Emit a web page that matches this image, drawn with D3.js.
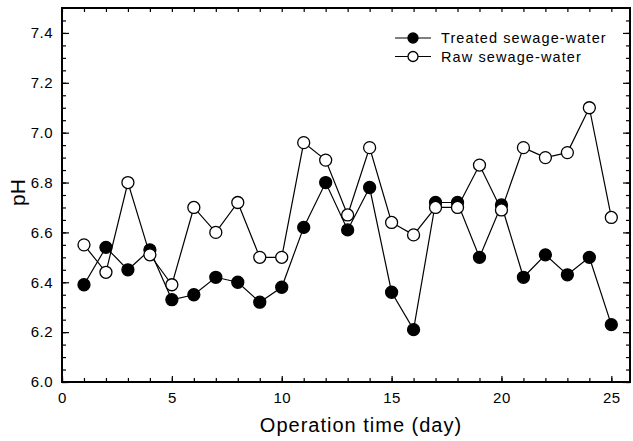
<!DOCTYPE html>
<html>
<head>
<meta charset="utf-8">
<script src="https://cdn.jsdelivr.net/npm/d3@7"></script>
<style>
  body { margin: 0; background: #fff; }
  text { font-family: "Liberation Sans", Arial, Helvetica, sans-serif; fill: #000; }
</style>
</head>
<body>
<div id="chart"></div>
<script>
// operation days
let days = [1, 2, 3, 4, 5, 6, 7, 8, 9, 10, 11, 12, 13, 14, 15, 16, 17, 18, 19, 20, 21, 22, 23, 24, 25];

// pH values
let treated = [6.39, 6.54, 6.45, 6.53, 6.33, 6.35, 6.42, 6.40, 6.32, 6.38, 6.62, 6.80, 6.61,
  6.78, 6.36, 6.21, 6.72, 6.72, 6.50, 6.71, 6.42, 6.51, 6.43, 6.50, 6.23];
let raw = [6.55, 6.44, 6.80, 6.51, 6.39, 6.70, 6.60, 6.72, 6.50, 6.50, 6.96, 6.89, 6.67,
  6.94, 6.64, 6.59, 6.70, 6.70, 6.87, 6.69, 6.94, 6.90, 6.92, 7.10, 6.66];

let yTicks = [6.0, 6.2, 6.4, 6.6, 6.8, 7.0, 7.2, 7.4];
let xTicks = [0, 5, 10, 15, 20, 25];

let seriesNames = ["Treated sewage-water", "Raw sewage-water"];

let margin = {
  top: 8,
  right: 3,
  bottom: 59,
  left: 62
};
let width = 633 - margin.left - margin.right;
let height = 441 - margin.top - margin.bottom;

let svg = d3.select("#chart")
  .append("svg")
  .attr("width", 633)
  .attr("height", 441);

let g = svg.append("g")
  .attr("transform", "translate(" + margin.left + "," + margin.top + ")");

let x = d3.scaleLinear()
  .domain([0, 25.85])
  .range([0, width]);

let y = d3.scaleLinear()
  .domain([6.0, 7.5])
  .range([height, 0]);

// minor ticks: every day on x, every 0.05 on y
let xMinor = d3.range(0, 26, 1);
let yMinor = d3.range(6.0, 7.5, 0.05);

// bottom axis (ticks point inward)
g.append("g")
  .attr("transform", "translate(0," + height + ")")
  .call(d3.axisBottom(x).tickValues(xMinor).tickSize(-4).tickFormat(""))
  .call(a => a.select(".domain").remove());

g.append("g")
  .attr("class", "xlab")
  .attr("transform", "translate(0," + height + ")")
  .call(d3.axisBottom(x).tickValues(xTicks).tickSize(-6).tickPadding(10).tickFormat(d3.format("d")))
  .call(a => a.select(".domain").remove());

// top axis
g.append("g")
  .call(d3.axisTop(x).tickValues(xMinor).tickSize(-4).tickFormat(""))
  .call(a => a.select(".domain").remove());

// left axis
g.append("g")
  .call(d3.axisLeft(y).tickValues(yMinor).tickSize(-4).tickFormat(""))
  .call(a => a.select(".domain").remove());

g.append("g")
  .attr("class", "ylab")
  .call(d3.axisLeft(y).tickValues(yTicks).tickSize(-7).tickPadding(9).tickFormat(d3.format(".1f")))
  .call(a => a.select(".domain").remove());

// right axis
g.append("g")
  .attr("transform", "translate(" + width + ",0)")
  .call(d3.axisRight(y).tickValues(yMinor).tickSize(-4).tickFormat(""))
  .call(a => a.select(".domain").remove());

g.append("g")
  .attr("transform", "translate(" + width + ",0)")
  .call(d3.axisRight(y).tickValues(yTicks).tickSize(-7).tickFormat(""))
  .call(a => a.select(".domain").remove());

g.selectAll(".tick line")
  .attr("stroke", "#000")
  .attr("stroke-width", 1.2);

g.selectAll(".xlab text, .ylab text")
  .style("font-size", "15px")
  .style("letter-spacing", "0.5px")
  .style("font-family", "'Liberation Sans', Arial, sans-serif");

// frame
g.append("rect")
  .attr("x", 0)
  .attr("y", 0)
  .attr("width", width)
  .attr("height", height)
  .attr("fill", "none")
  .attr("stroke", "#000")
  .attr("stroke-width", 2);

let lineGen = d3.line()
  .x(function (d, i) {
    return x(days[i]);
  })
  .y(function (d) {
    return y(d);
  });

function drawSeries(vals, fill) {
  g.append("path")
    .datum(vals)
    .attr("fill", "none")
    .attr("stroke", "#000")
    .attr("stroke-width", 1.2)
    .attr("d", lineGen);

  g.append("g")
    .selectAll("circle")
    .data(vals)
    .enter()
    .append("circle")
    .attr("cx", function (d, i) {
      return x(days[i]);
    })
    .attr("cy", function (d) {
      return y(d);
    })
    .attr("r", 6)
    .attr("fill", fill)
    .attr("stroke", "#000")
    .attr("stroke-width", 1.3);
}

drawSeries(treated, "#000");
drawSeries(raw, "#fff");

// legend
let legend = svg.append("g")
  .attr("transform", "translate(395,38)");

let legendFills = ["#000", "#fff"];

seriesNames.forEach(function (name, i) {
  let row = legend.append("g")
    .attr("transform", "translate(0," + (i * 18.5) + ")");
  row.append("line")
    .attr("x1", 0)
    .attr("x2", 36)
    .attr("stroke", "#000")
    .attr("stroke-width", 1.2);
  row.append("circle")
    .attr("cx", 18)
    .attr("r", 5)
    .attr("fill", legendFills[i])
    .attr("stroke", "#000")
    .attr("stroke-width", 1.3);
  row.append("text")
    .attr("x", 46)
    .attr("dy", "0.35em")
    .style("font-size", "14.5px")
    .style("letter-spacing", "1.1px")
    .text(name);
});

// axis titles
svg.append("text")
  .attr("x", 361)
  .attr("y", 432)
  .attr("text-anchor", "middle")
  .style("font-size", "20px")
  .style("letter-spacing", "1px")
  .text("Operation time (day)");

svg.append("text")
  .attr("transform", "translate(25," + (margin.top + y(6.76)) + ") rotate(-90)")
  .attr("text-anchor", "middle")
  .style("font-size", "21px")
  .text("pH");
</script>
</body>
</html>
